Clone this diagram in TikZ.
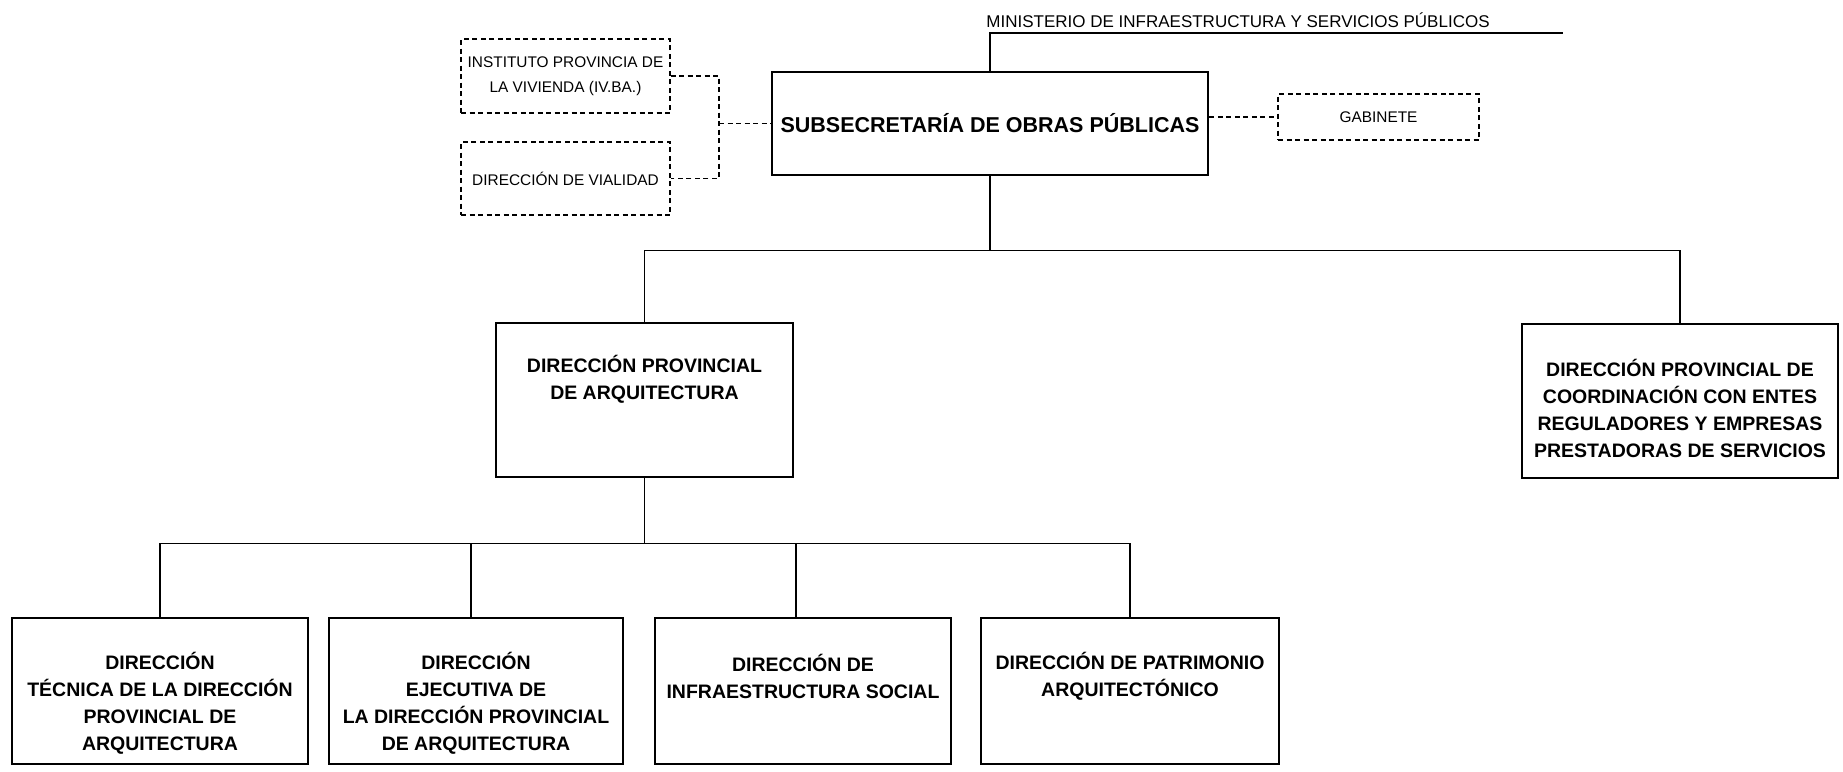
\documentclass[tikz,border=0pt]{standalone}
\usepackage{fontspec}
\setmainfont{Liberation Sans}
\usepackage{tikz}
\tikzset{unitbox/.style={draw,line width=2.8pt,inner sep=0pt},
 auxbox/.style={draw,line width=1.2pt,dash pattern={on 5pt off 3.5pt},inner sep=0pt,align=center,font=\fontsize{15.4}{24.7}\selectfont},
 link/.style={line width=1.2pt},
 auxlink/.style={line width=1.2pt,dash pattern={on 5pt off 3.5pt}},
 bigtxt/.style={align=center,inner sep=0pt,font=\fontsize{19.5}{27}\selectfont\bfseries}}
\begin{document}
\begin{tikzpicture}[x=1pt,y=-1pt]
\useasboundingbox (0,0) rectangle (1843,771);
\node[unitbox,minimum width=436,minimum height=103,font=\fontsize{21.5}{26}\selectfont\bfseries] (subs) at (990,123.5) {SUBSECRETARÍA DE OBRAS PÚBLICAS};
\node[inner sep=0pt,font=\fontsize{17}{20}\selectfont] (min) at (1238,20) {MINISTERIO DE INFRAESTRUCTURA Y SERVICIOS PÚBLICOS};
\coordinate (minend) at (1563,33);
\draw[link] (subs.north) |- (minend);
\node[auxbox,minimum width=209,minimum height=74] (ivba) at (565.5,76) {INSTITUTO PROVINCIA DE\\LA VIVIENDA (IV.BA.)};
\node[auxbox,minimum width=209,minimum height=73] (vial) at (565.5,178.5) {\raisebox{-3.5pt}{DIRECCIÓN DE VIALIDAD}};
\node[auxbox,minimum width=201,minimum height=46] (gab) at (1378.5,117) {GABINETE};
\coordinate (split) at (719,123.5);
\draw[auxlink] (ivba.east) -| (split) |- (vial.east); \draw[auxlink] (split) -- (subs.west);
\draw[auxlink] (subs.east |- gab.west) -- (gab.west);
\node[unitbox,minimum width=297,minimum height=154] (dpa) at (644.5,400) {};
\node[bigtxt] (dpat) at (644.5,379) {DIRECCIÓN PROVINCIAL\\DE ARQUITECTURA};
\node[unitbox,minimum width=316,minimum height=154] (dpc) at (1680,401) {};
\node[bigtxt] (dpct) at (1680,408) {DIRECCIÓN PROVINCIAL DE\\COORDINACIÓN CON ENTES\\REGULADORES Y EMPRESAS\\PRESTADORAS DE SERVICIOS};
\draw[link] (subs.south) -- ++(0,74) coordinate (hub1); \draw[link] (dpa.north) |- (hub1) -| (dpc.north);
\node[unitbox,minimum width=296,minimum height=146] (dtec) at (160,691) {};
\node[bigtxt] (dtect) at (160,703) {DIRECCIÓN\\TÉCNICA DE LA DIRECCIÓN\\PROVINCIAL DE\\ARQUITECTURA};
\node[unitbox,minimum width=294,minimum height=146] (deje) at (476,691) {};
\node[bigtxt] (dejet) at (476,703) {DIRECCIÓN\\EJECUTIVA DE\\LA DIRECCIÓN PROVINCIAL\\DE ARQUITECTURA};
\node[unitbox,minimum width=296,minimum height=146] (dinf) at (803,691) {};
\node[bigtxt] (dinft) at (803,676) {DIRECCIÓN DE\\INFRAESTRUCTURA SOCIAL};
\node[unitbox,minimum width=298,minimum height=146] (dpat) at (1130,691) {};
\node[bigtxt] (dpatt) at (1130,676) {DIRECCIÓN DE PATRIMONIO\\ARQUITECTÓNICO};
\draw[link] (dpa.south) -- ++(0,65) coordinate (hub2); \draw[link] (dtec.north) |- (hub2) -| (dpat.north);
\draw[link] ([xshift=-5pt]deje.north) -- ([xshift=-5pt]deje.north |- hub2); \draw[link] ([xshift=-7pt]dinf.north) -- ([xshift=-7pt]dinf.north |- hub2);
\end{tikzpicture}
\end{document}
